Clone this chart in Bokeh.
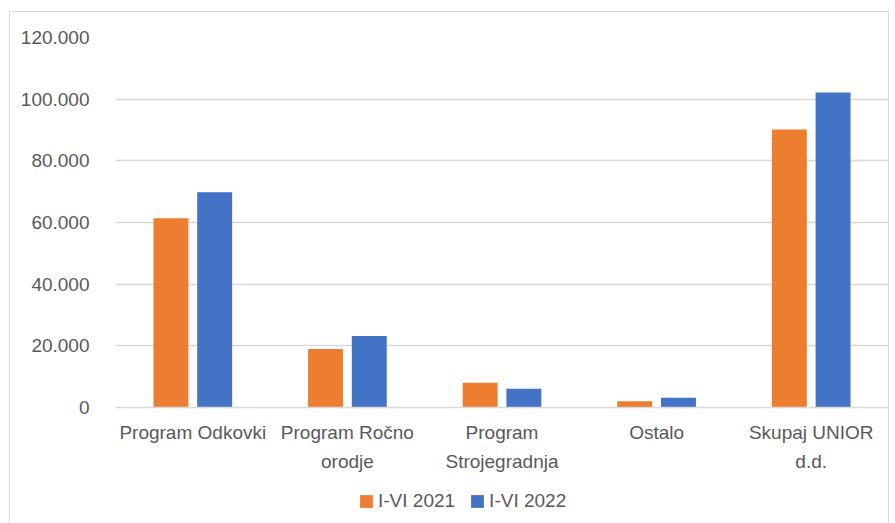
from bokeh.plotting import figure
from bokeh.models import FactorRange, ColumnDataSource, FixedTicker, Legend, LegendItem
from bokeh.layouts import column
from bokeh.transform import dodge
from bokeh.embed import file_html
from bokeh.resources import INLINE

categories = ["Program Odkovki", "Program Ročno\norodje", "Program\nStrojegradnja", "Ostalo", "Skupaj UNIOR\nd.d."]
series_names = ["I-VI 2021", "I-VI 2022"]
values_2021 = [61400, 19000, 8000, 2000, 90200]
values_2022 = [69800, 23200, 6100, 3200, 102200]
y_ticks = [0, 20000, 40000, 60000, 80000, 100000, 120000]
y_tick_labels = ["0", "20.000", "40.000", "60.000", "80.000", "100.000", "120.000"]

FONT = "Liberation Sans"
TXT = "#595959"
GRID = "#d9d9d9"
C21 = "#ED7D31"
C22 = "#4472C4"

src = ColumnDataSource(dict(cat=categories, v21=values_2021, v22=values_2022))

p = figure(x_range=FactorRange(*categories, range_padding=0), y_range=(0, 120000),
           width=878, height=463, output_backend="svg", toolbar_location=None,
           min_border_left=105, min_border_right=0, min_border_top=25, min_border_bottom=68)
p.outline_line_color = None
p.background_fill_color = "white"
p.border_fill_color = "white"

p.vbar(x=dodge("cat", -0.1415, range=p.x_range), top="v21", width=0.226, source=src,
       fill_color=C21, line_color=None)
p.vbar(x=dodge("cat", 0.1415, range=p.x_range), top="v22", width=0.226, source=src,
       fill_color=C22, line_color=None)

p.xgrid.grid_line_color = None
p.ygrid.grid_line_color = GRID
p.ygrid.grid_line_width = 1.5
p.yaxis.ticker = FixedTicker(ticks=y_ticks)
p.yaxis.major_label_overrides = {t: l for t, l in zip(y_ticks, y_tick_labels)}
p.yaxis.axis_line_color = None
p.yaxis.major_tick_line_color = None
p.yaxis.minor_tick_line_color = None
p.yaxis.major_tick_in = 0
p.yaxis.major_tick_out = 0
p.yaxis.major_label_standoff = 26

p.xaxis.axis_line_color = GRID
p.xaxis.axis_line_width = 1.5
p.xaxis.major_tick_line_color = None
p.xaxis.minor_tick_line_color = None
p.xaxis.major_tick_in = 0
p.xaxis.major_tick_out = 0
p.xaxis.major_label_standoff = 14
p.xaxis.major_label_text_line_height = 1.4

for ax in (p.xaxis, p.yaxis):
    ax.major_label_text_font = FONT
    ax.major_label_text_font_size = "19px"
    ax.major_label_text_color = TXT

# legend strip below the chart (zero-height swatch renderers)
lf = figure(width=878, height=48, output_backend="svg", toolbar_location=None,
            x_axis_type=None, y_axis_type=None, x_range=(0, 1), y_range=(0, 1),
            min_border=0, min_border_left=0, min_border_right=0, min_border_top=0, min_border_bottom=0)
lf.outline_line_color = None
lf.background_fill_color = "white"
lf.border_fill_color = "white"
swatch = ColumnDataSource(dict(x=[0], top=[0]))
l1 = lf.vbar(x="x", top="top", bottom="top", width=0, source=swatch, fill_color=C21, line_color=None)
l2 = lf.vbar(x="x", top="top", bottom="top", width=0, source=swatch, fill_color=C22, line_color=None)
legend = Legend(items=[LegendItem(label=series_names[0], renderers=[l1]),
                       LegendItem(label=series_names[1], renderers=[l2])],
                orientation="horizontal", location=(243, 11),
                glyph_width=16, glyph_height=16, label_standoff=4, spacing=14,
                padding=0, margin=0, border_line_color=None, background_fill_alpha=0,
                label_text_font=FONT, label_text_font_size="19px", label_text_color=TXT)
lf.add_layout(legend, "center")

layout = column(p, lf, spacing=0)
layout.styles = {"border": "1px solid #d9d9d9", "border-bottom": "none",
                 "margin-top": "11px", "margin-left": "9px", "background-color": "white"}

open("out.html", "w").write(file_html(layout, INLINE))
